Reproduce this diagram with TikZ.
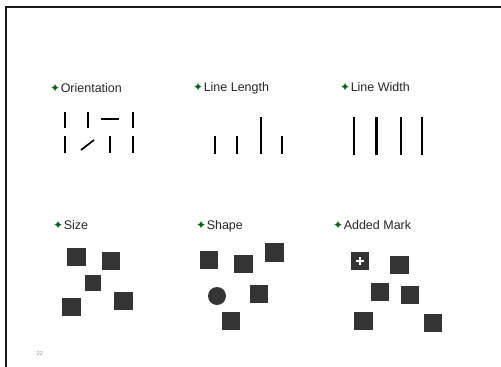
\documentclass[tikz,border=0pt]{standalone}
\usepackage{fontspec}
\setmainfont{Liberation Sans}
\newfontfamily\symfont{DejaVu Sans}
\usetikzlibrary{calc,positioning}
\definecolor{slidegreen}{RGB}{0,100,20}
\definecolor{blobgray}{RGB}{52,52,52}
\tikzset{
heading/.style={
  anchor=base west,
  inner sep=0pt,
  font=\fontsize{12.5}{14}\selectfont,
  text=black!85,
  }
}
\tikzset{
blob/.style={
  rectangle,
  fill=blobgray,
  inner sep=0pt,
  minimum size=18.5pt,
  }
}
\tikzset{
bar/.style={
  line width=1.7pt,
  black,
  }
}
\newcommand{\slidestar}{{\symfont\color{slidegreen}\fontsize{12}{12}\selectfont ✦}\kern0.5pt}

\begin{document}
\begin{tikzpicture}[x=1pt,y=-1pt]
    \useasboundingbox (0,0) rectangle (501,367);
    % slide frame
    \draw[line width=2.4pt, black!90] (6,367) -- (6,7) -- (501,7);

    % headings
    \node[heading] (orient) at (50,92.3) {\slidestar Orientation};
    \node[heading] (linelen) at (193,91) {\slidestar Line Length};
    \node[heading] (linewid) at (340,91) {\slidestar Line Width};
    \node[heading] (size) at (53,229) {\slidestar Size};
    \node[heading] (shape) at (196,229) {\slidestar Shape};
    \node[heading] (added) at (333,229) {\slidestar Added Mark};

    % orientation
    \foreach \x in {65,88,133} {
      \draw[bar] (\x,112) -- (\x,128);
    }
    \draw[bar] (101,119) -- (119,119);
    \foreach \x in {65,110,133} {
      \draw[bar] (\x,136) -- (\x,153);
    }
    \draw[bar] (81,150) -- (94,140);

    % line length
    \foreach \x in {215,237,282} {
      \draw[bar] (\x,136) -- (\x,154);
    }
    \draw[bar] (261,117) -- (261,154);

    % line width
    \draw[bar, line width=2pt] (354,117) -- (354,155);
    \draw[bar, line width=3pt] (376,117) -- (376,155);
    \draw[bar, line width=2pt] (401,117) -- (401,155);
    \draw[bar, line width=2pt] (422,117) -- (422,155);

    % size
    \node[blob] (sz1) at (76.5,257) {};
    \node[blob] (sz2) at (111,261) {};
    \node[blob, minimum size=16pt] (sz3) at (92.5,282.5) {};
    \node[blob] (sz4) at (71.5,307) {};
    \node[blob] (sz5) at (123.5,301) {};

    % shape
    \node[blob] (shp1) at (209,260) {};
    \node[blob] (shp2) at (243.5,264) {};
    \node[blob] (shp3) at (274.5,252.5) {};
    \node[blob, circle, minimum size=18pt] (shp4) at (217,296) {};
    \node[blob] (shp5) at (259,294) {};
    \node[blob] (shp6) at (231,321) {};

    % added mark
    \node[blob] (add1) at (360,261) {};
    \draw[white, line width=1.3pt] ($(add1)+(-3.8,0)$) -- ($(add1)+(3.8,0)$);
    \draw[white, line width=1.3pt] ($(add1)+(0,-3.8)$) -- ($(add1)+(0,3.8)$);
    \node[blob] (add2) at (399.5,265) {};
    \node[blob] (add3) at (380,292) {};
    \node[blob] (add4) at (410,295) {};
    \node[blob] (add5) at (363.5,321) {};
    \node[blob] (add6) at (433,323) {};

    % page number
    \node[font=\fontsize{5.5}{6}\selectfont, text=black!45] (pagenum) at (40,354) {22};
\end{tikzpicture}
\end{document}
